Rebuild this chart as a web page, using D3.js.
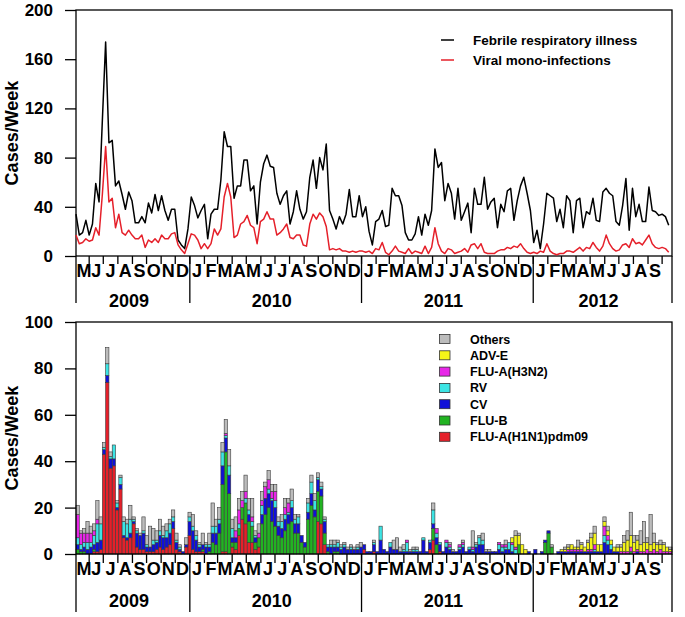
<!DOCTYPE html>
<html>
<head>
<meta charset="utf-8">
<script src="https://cdn.jsdelivr.net/npm/d3@7"></script>
<style>
  body { margin: 0; background: #fff; }
  text { font-family: "Liberation Sans", Arial, sans-serif; font-weight: bold; fill: #000; }
</style>
</head>
<body>
<svg id="chart" width="685" height="617"></svg>
<script>
// weekly counts, first week starts Monday 4 May 2009
var firstWeek = new Date(2009, 4, 4);

var febrile = [34,17,19,29,17,26,59,44,110,174,92,94,57,61,50,38,52,45,27,27,32,27,43,35,50,37,49,37,29,38,
  38,13,9,6,22,48,41,31,37,42,14,34,38,38,62,101,89,89,47,57,57,78,78,53,57,26,60,75,82,73,
  72,51,42,49,53,26,36,53,38,30,36,64,78,55,80,70,91,37,30,22,32,26,34,54,32,32,49,32,40,20,9,
  28,30,37,24,25,55,49,49,41,19,13,13,18,32,17,34,25,37,87,72,76,45,59,51,30,55,29,36,43,19,
  55,42,42,64,38,44,47,23,42,36,53,55,29,45,57,64,51,37,11,21,6,26,51,49,47,28,38,23,49,45,
  19,45,47,23,36,34,47,29,28,52,55,51,49,28,25,41,63,21,55,32,42,28,28,56,37,36,33,34,32,25];

var mono = [17,10,11,14,12,13,23,17,50,89,44,47,23,34,19,17,21,17,14,14,17,7,13,11,14,11,17,14,14,
  18,19,9,5,2,10,18,17,13,6,10,6,10,22,17,22,48,59,48,15,17,26,28,33,25,23,10,28,30,36,
  30,30,17,19,22,26,15,14,17,17,9,8,26,34,30,35,32,24,5,6,5,6,4,4,3,4,3,4,4,3,4,2,
  6,5,11,3,1,4,8,4,3,2,6,2,4,3,2,8,2,7,23,10,4,2,6,5,2,3,4,6,3,9,
  10,6,10,3,2,2,2,4,5,5,7,6,8,7,10,6,3,2,3,2,4,3,10,4,2,1,2,2,4,
  4,3,5,7,4,7,6,11,7,4,8,17,10,6,4,5,9,10,7,14,10,11,9,13,17,10,7,6,7,6,3];

// viral mono-infections by virus (stacked bottom to top)
var h1n1 = [0,0,0,0,0,1,1,2,43,74,37,38,19,28,7,6,7,13,3,2,2,1,1,1,2,3,2,3,4,11,2,1,0,3,8,
  2,1,1,1,0,0,0,0,0,1,1,0,3,2,8,15,13,5,5,2,3,0,0,0,0,0,0,0,0,0,0,0,0,0,0,0,0,0,14,13,4,0,0,0,0,0,0,0,0,0,0,0,
  2,0,0,1,0,0,0,0,0,0,0,0,0,0,0,0,0,0,0,0,2,6,0,1,0,0,0,0,0,0,0,0,0,0,0,0,0,0,0,0,0,0,0,0,0,0,0,0,0,0,0,0,
  0,0,0,0,0,0,0,0,0,0,0,0,0,0,0,0,0,0,0,0,0,0,0,0,0,0,0,0,0,0,0,0,0,0,0,0,0,0,0,0,0,0];
var flub = [2,1,1,0,0,1,0,0,0,0,0,0,0,0,0,0,0,0,0,0,0,0,0,0,0,0,0,0,0,0,0,0,0,0,0,
  0,0,0,1,0,1,5,4,9,29,43,26,2,3,3,5,9,9,7,3,4,13,17,20,14,12,8,7,10,13,14,9,9,5,3,15,21,16,13,12,5,1,0,1,1,0,0,0,0,0,0,0,
  0,0,0,0,0,0,0,0,0,0,0,0,0,0,0,0,0,0,0,0,0,5,4,0,0,0,0,0,0,0,0,0,0,0,0,0,0,0,0,0,0,0,0,0,0,0,0,4,0,0,0,0,
  0,0,0,5,9,3,0,0,0,0,0,0,0,0,0,0,0,0,0,0,0,0,0,0,0,0,0,0,0,1,0,0,0,0,0,0,0,0,0,0,0,0];
var cv = [2,1,2,2,3,2,4,4,2,3,4,3,1,2,1,1,2,1,6,6,7,2,2,3,3,5,5,4,5,3,3,1,1,1,6,
  8,5,2,2,3,2,4,5,4,8,6,8,2,2,0,0,0,3,0,2,0,4,7,6,9,8,4,4,5,4,6,4,4,3,2,3,5,3,5,3,5,2,3,2,2,2,3,2,2,2,2,3,
  2,1,1,3,1,6,2,1,3,2,2,1,1,1,1,1,1,1,6,1,3,2,3,3,1,3,2,1,1,2,3,1,2,1,3,4,4,1,1,1,1,2,1,2,2,1,0,0,0,0,1,0,
  2,0,1,1,1,0,0,1,1,1,1,1,1,1,1,1,1,1,1,1,1,5,4,2,1,1,0,0,0,0,0,1,0,0,0,0,0,0,0,0,0,0];
var rv = [3,2,2,3,2,4,8,7,1,5,1,6,2,3,6,6,6,1,1,0,1,1,0,2,1,2,1,3,4,2,1,1,0,0,2,
  2,2,1,0,1,1,3,3,2,6,1,4,4,0,2,0,2,2,2,1,0,4,0,2,1,3,2,3,2,1,3,2,3,0,0,4,5,4,1,1,1,1,1,1,2,1,1,0,1,0,1,0,
  0,0,0,1,0,6,0,0,2,0,0,0,1,4,0,1,1,0,1,0,1,6,2,1,0,2,1,0,0,1,1,0,1,1,1,3,2,0,0,0,0,2,2,1,3,3,2,0,0,0,0,0,
  0,0,0,0,0,0,0,0,0,0,0,0,0,0,0,0,0,0,1,0,0,3,2,2,0,0,0,0,0,0,0,0,0,0,0,0,0,0,0,0,0,0];
var h3n2 = [10,5,4,4,4,2,2,0,0,0,0,0,0,0,0,0,0,0,0,0,0,0,0,0,0,0,0,0,0,0,0,0,0,0,0,
  0,0,0,0,0,0,0,0,0,0,1,0,0,3,6,3,3,0,2,0,2,2,5,4,3,4,0,0,3,4,0,0,0,0,0,0,0,0,0,0,0,0,0,0,0,0,0,0,0,0,0,0,
  0,0,0,0,0,0,0,0,0,0,0,0,0,1,0,0,0,0,0,0,0,0,2,0,0,1,1,0,0,1,1,0,0,1,0,0,0,0,0,0,0,1,1,1,0,1,1,0,0,0,0,0,
  0,0,0,0,0,0,0,0,0,0,1,1,1,1,1,0,1,1,2,0,0,4,2,0,0,0,1,1,1,2,1,1,1,1,2,1,2,1,2,1,1,1];
var adve = [0,0,0,0,0,0,0,0,0,0,0,0,0,0,0,0,0,0,0,0,0,0,0,0,0,0,0,0,0,0,0,0,0,0,0,
  0,0,0,0,0,0,0,0,0,0,0,0,0,0,0,0,0,0,0,0,0,0,0,0,0,0,0,0,0,0,0,0,0,0,0,0,0,0,0,0,0,0,0,0,0,0,0,0,0,0,0,0,
  0,0,0,0,0,0,0,0,0,0,0,0,0,0,0,0,0,0,0,0,0,0,0,0,0,0,0,0,0,0,0,0,0,0,0,0,0,0,0,0,0,0,0,0,0,2,5,4,4,2,0,0,
  0,0,0,0,0,0,0,0,1,1,1,2,1,1,2,2,3,5,5,3,3,2,2,2,2,2,2,4,5,5,4,4,3,4,3,3,3,3,2,3,2,1];
var others = [4,1,2,5,3,3,8,3,2,7,2,0,1,1,2,2,6,1,1,1,6,4,9,5,4,5,4,3,2,3,3,1,0,3,2,
  5,2,1,5,1,5,10,3,5,4,6,7,4,6,5,4,7,5,8,2,4,4,2,4,3,3,2,3,4,2,5,2,1,0,0,2,3,3,2,2,1,0,2,2,1,1,1,1,1,1,1,2,
  0,0,0,1,0,0,0,0,0,4,5,2,2,0,1,1,1,0,0,0,0,3,0,0,0,0,1,1,0,0,1,0,0,7,1,1,3,1,1,0,0,0,0,2,0,0,2,1,0,0,0,0,
  0,0,0,0,0,1,0,0,0,1,1,0,0,3,1,0,1,2,3,0,0,2,2,0,0,1,1,3,4,10,3,2,6,9,2,13,4,1,2,1,0,1];

var virusNames = ["FLU-A(H1N1)pdm09", "FLU-B", "CV", "RV", "FLU-A(H3N2)", "ADV-E", "Others"];
var virusColors = ["#e5202a", "#22b322", "#1010d8", "#3ce4e4", "#e826e8", "#f4f418", "#bcbcbc"];
var virusSeries = [h1n1, flub, cv, rv, h3n2, adve, others];

var lineNames = ["Febrile respiratory illness", "Viral mono-infections"];
var lineColors = ["#000000", "#e5202a"];

var monthLetters = ["J","F","M","A","M","J","J","A","S","O","N","D"];
var topTicks = [0, 40, 80, 120, 160, 200];
var bottomTicks = [0, 20, 40, 60, 80, 100];

var svg = d3.select("#chart");

var weeks = febrile.map(function(d, i) { return d3.timeDay.offset(firstWeek, 7 * i); });
var lastDay = d3.timeDay.offset(firstWeek, 7 * febrile.length);

var x = d3.scaleTime().domain([firstWeek, lastDay]).range([76, 672]);

var yTop = d3.scaleLinear().domain([0, 200]).range([256, 10]);
var yBot = d3.scaleLinear().domain([0, 100]).range([554, 322]);

function drawFrame(y, ticks, monthY, yearY, tickLen, sepBottom) {
    var g = svg.append("g");
    var r = y.range();

    g.append("g")
        .attr("transform", "translate(76,0)")
        .call(d3.axisLeft(y).tickValues(ticks).tickSize(11).tickSizeOuter(0).tickPadding(12))
        .call(function(a) {
            a.select(".domain").remove();
            a.selectAll("line").attr("stroke", "#000").attr("stroke-width", 1.3);
            a.selectAll("text").style("font-size", "17px").attr("font-family", null);
        });

    g.append("rect")
        .attr("x", x.range()[0]).attr("y", r[1])
        .attr("width", x.range()[1] - x.range()[0]).attr("height", r[0] - r[1])
        .attr("fill", "none").attr("stroke", "#000").attr("stroke-width", 1.3);

    // month ticks
    var monthStarts = d3.timeMonth.range(d3.timeMonth.ceil(firstWeek), lastDay);
    g.selectAll(".mtick").data(monthStarts).enter().append("line")
        .attr("x1", function(d) { return x(d); }).attr("x2", function(d) { return x(d); })
        .attr("y1", r[0]).attr("y2", r[0] + tickLen)
        .attr("stroke", "#000").attr("stroke-width", 1.3);

    // month letters
    var labelMonths = d3.timeMonth.range(new Date(2009, 4, 1), new Date(2012, 9, 1));
    g.selectAll(".mlab").data(labelMonths).enter().append("text")
        .attr("x", function(d) {
            var a = d3.max([d, firstWeek]);
            var b = d3.timeMonth.offset(d, 1);
            return (x(d) + x(b)) / 2 + (d < firstWeek ? 2 : 0);
        })
        .attr("y", monthY)
        .attr("text-anchor", "middle")
        .style("font-size", "18px")
        .text(function(d) { return monthLetters[d.getMonth()]; });

    // year separators
    var yearStarts = [firstWeek].concat(d3.timeYear.range(d3.timeYear.ceil(firstWeek), lastDay)).concat([lastDay]);
    g.selectAll(".ysep").data(yearStarts).enter().append("line")
        .attr("x1", function(d) { return x(d); }).attr("x2", function(d) { return x(d); })
        .attr("y1", r[0]).attr("y2", sepBottom)
        .attr("stroke", "#000").attr("stroke-width", 1.3);

    var yearSpans = d3.pairs(yearStarts);
    g.selectAll(".ylab").data(yearSpans).enter().append("text")
        .attr("x", function(d) { return (x(d[0]) + x(d[1])) / 2 - 4; })
        .attr("y", yearY)
        .attr("text-anchor", "middle")
        .style("font-size", "18px")
        .text(function(d) { return d3.timeFormat("%Y")(d3.timeDay.offset(d[0], 3)); });

    g.append("text")
        .attr("transform", "translate(18," + ((r[0] + r[1]) / 2) + ") rotate(-90)")
        .attr("text-anchor", "middle")
        .style("font-size", "18px")
        .text("Cases/Week");
}

// ---- top panel: weekly lines
drawFrame(yTop, topTicks, 277, 306.5, 8, 303);

var line = d3.line()
    .x(function(d, i) { return x(weeks[i]); });

[febrile, mono].forEach(function(series, k) {
    svg.append("path")
        .datum(series)
        .attr("fill", "none")
        .attr("stroke", lineColors[k])
        .attr("stroke-width", 1.5)
        .attr("stroke-linejoin", "round")
        .attr("d", line.y(function(d) { return yTop(d); }));
});

var legTop = svg.append("g");
lineNames.forEach(function(name, k) {
    var yy = 40 + k * 20;
    legTop.append("line").attr("x1", 441).attr("x2", 454).attr("y1", yy).attr("y2", yy)
        .attr("stroke", lineColors[k]).attr("stroke-width", 1.5);
    legTop.append("text").attr("x", 473).attr("y", yy + 5)
        .style("font-size", "13.5px").text(name);
});

// ---- bottom panel: stacked bars
var rows = weeks.map(function(w, i) {
    var row = { week: w };
    virusNames.forEach(function(n, k) { row[n] = virusSeries[k][i]; });
    return row;
});

var stacked = d3.stack().keys(virusNames)(rows);

var bars = svg.append("g");
stacked.forEach(function(layer, k) {
    bars.selectAll(".seg" + k)
        .data(layer.filter(function(d) { return d[1] > d[0]; }))
        .enter().append("rect")
        .attr("x", function(d) { return x(d.data.week); })
        .attr("width", function(d) { return x(d3.timeDay.offset(d.data.week, 7)) - x(d.data.week); })
        .attr("y", function(d) { return yBot(d[1]); })
        .attr("height", function(d) { return yBot(d[0]) - yBot(d[1]); })
        .attr("fill", virusColors[k])
        .attr("stroke", "#3a3a3a")
        .attr("stroke-width", 0.6);
});

drawFrame(yBot, bottomTicks, 575, 606.5, 9, 612);

var legBot = svg.append("g");
virusNames.slice().reverse().forEach(function(name, k) {
    var yy = 339 + k * 16.3;
    legBot.append("rect").attr("x", 439.5).attr("y", yy - 4.5).attr("width", 10.5).attr("height", 9)
        .attr("fill", virusColors[virusNames.length - 1 - k]).attr("stroke", "#333").attr("stroke-width", 0.8);
    legBot.append("text").attr("x", 470).attr("y", yy + 4.5)
        .style("font-size", "12.5px").text(name);
});
</script>
</body>
</html>
